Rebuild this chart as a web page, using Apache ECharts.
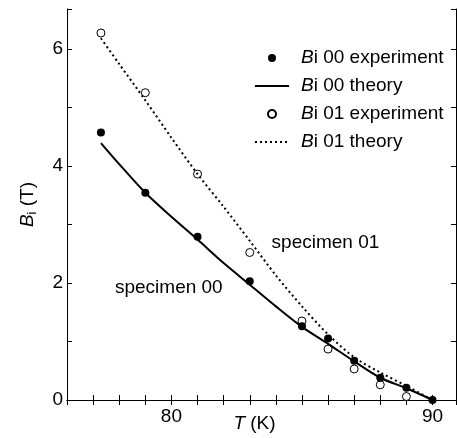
<!DOCTYPE html>
<html>
<head>
<meta charset="utf-8">
<script src="https://cdn.jsdelivr.net/npm/echarts@6/dist/echarts.min.js"></script>
<style>
  html, body { margin: 0; padding: 0; background: #fff; }
  #chart { width: 457px; height: 438px; }
</style>
</head>
<body>
<div id="chart"></div>
<script>
// 温度 (K) 与 Bi (T) 数据
const tExp = [77.3, 79, 81, 83, 85, 86, 87, 88, 89, 90]
const bi00Exp = [4.57, 3.54, 2.79, 2.03, 1.26, 1.05, 0.67, 0.38, 0.21, 0.0]
const bi01Exp = [6.27, 5.25, 3.86, 2.52, 1.35, 0.87, 0.53, 0.26, 0.06]

const tTheory = [77.3, 78, 79, 80, 81, 82, 83, 84, 85, 86, 87, 88, 89, 90]
const bi00Theory = [4.39, 4.03, 3.54, 3.13, 2.74, 2.34, 1.97, 1.60, 1.25, 0.96, 0.66, 0.38, 0.20, 0.0]
const bi01Theory = [6.18, 5.74, 5.12, 4.48, 3.86, 3.30, 2.72, 2.13, 1.60, 1.12, 0.73, 0.47, 0.24, 0.0]

const xLabels = [80, 90]
const yLabels = [0, 2, 4, 6]

// 标注文字
const notes = [
  { name: 'specimen 01', value: [85.9, 2.68] },
  { name: 'specimen 00', value: [79.9, 1.91] }
]

const legendNames = ['Bi 00 experiment', 'Bi 00 theory', 'Bi 01 experiment', 'Bi 01 theory']

const FONT = '"Liberation Sans", Arial, sans-serif'
const pairs = (xs, ys) => ys.map((y, i) => [xs[i], y])

const xCommon = {
  type: 'value',
  min: 76,
  max: 90.9,
  interval: 1,
  axisLine: { show: true, lineStyle: { color: '#000', width: 1 } },
  axisTick: { show: true, inside: true, length: 5, lineStyle: { color: '#000' } },
  splitLine: { show: false }
}
const yCommon = {
  type: 'value',
  min: 0,
  max: 6.68,
  interval: 1,
  axisLine: { show: true, lineStyle: { color: '#000', width: 1 } },
  axisTick: { show: true, inside: true, length: 5, lineStyle: { color: '#000' } },
  splitLine: { show: false }
}

// 理论曲线的图例只画线，不画点
const hideDot = { color: 'rgba(0,0,0,0)', borderWidth: 0, opacity: 0 }

const option = {
  animation: false,
  backgroundColor: '#fff',
  textStyle: { fontFamily: FONT },
  grid: { left: 67, right: 1, top: 9, bottom: 38, containLabel: false, outerBoundsMode: 'none' },
  legend: {
    data: [
      { name: legendNames[0] },
      { name: legendNames[1], itemStyle: hideDot },
      { name: legendNames[2] },
      { name: legendNames[3], itemStyle: hideDot }
    ],
    orient: 'vertical',
    left: 249,
    top: 43,
    itemWidth: 34,
    itemHeight: 8,
    itemGap: 8,
    formatter: n => '{i|B}' + n.slice(1),
    textStyle: {
      fontFamily: FONT,
      fontSize: 19,
      color: '#000',
      lineHeight: 20,
      padding: [0, 0, 0, 7],
      rich: { i: { fontFamily: FONT, fontSize: 19, fontStyle: 'italic', color: '#000' } }
    }
  },
  xAxis: [
    Object.assign({}, xCommon, {
      position: 'bottom',
      name: '{t|T} (K)',
      nameLocation: 'middle',
      nameGap: 14,
      nameMoveOverlap: false,
      nameTextStyle: {
        fontFamily: FONT, fontSize: 19, color: '#000', padding: [0, 14, 0, 0],
        rich: { t: { fontFamily: FONT, fontSize: 19, fontStyle: 'italic', color: '#000' } }
      },
      axisLabel: {
        fontFamily: FONT, fontSize: 19, color: '#000', margin: 7,
        formatter: v => (xLabels.includes(v) ? String(v) : '')
      }
    }),
    Object.assign({}, xCommon, { position: 'top', axisLabel: { show: false } })
  ],
  yAxis: [
    Object.assign({}, yCommon, {
      position: 'left',
      name: '{b|B}{s|i} (T)',
      nameLocation: 'middle',
      nameGap: 28,
      nameMoveOverlap: false,
      nameTextStyle: {
        fontFamily: FONT, fontSize: 19, color: '#000',
        rich: {
          b: { fontFamily: FONT, fontSize: 19, fontStyle: 'italic', color: '#000' },
          s: { fontFamily: FONT, fontSize: 13, color: '#000', padding: [9, 0, 0, 0] }
        }
      },
      axisLabel: {
        fontFamily: FONT, fontSize: 19, color: '#000', margin: 4,
        formatter: v => (yLabels.includes(v) ? String(v) : '')
      }
    }),
    Object.assign({}, yCommon, { position: 'right', axisLabel: { show: false } })
  ],
  series: [
    {
      name: 'Bi 01 experiment',
      type: 'scatter',
      symbol: 'circle',
      symbolSize: 8,
      itemStyle: { color: '#fff', borderColor: '#000', borderWidth: 1, opacity: 1 },
      data: pairs(tExp, bi01Exp)
    },
    {
      name: 'Bi 01 theory',
      type: 'line',
      symbol: 'none',
      smooth: 0.3,
      lineStyle: { color: '#000', width: 2, type: [2, 3] },
      itemStyle: { color: '#000' },
      data: pairs(tTheory, bi01Theory)
    },
    {
      name: 'Bi 00 theory',
      type: 'line',
      symbol: 'none',
      smooth: 0.3,
      lineStyle: { color: '#000', width: 2 },
      itemStyle: { color: '#000' },
      data: pairs(tTheory, bi00Theory)
    },
    {
      name: 'Bi 00 experiment',
      type: 'scatter',
      symbol: 'circle',
      symbolSize: 8,
      itemStyle: { color: '#000', opacity: 1 },
      data: pairs(tExp, bi00Exp)
    },
    {
      name: 'notes',
      type: 'scatter',
      symbolSize: 0,
      silent: true,
      itemStyle: { color: '#000', opacity: 1 },
      label: {
        show: true,
        position: 'inside',
        formatter: '{b}',
        fontFamily: FONT,
        fontSize: 19,
        color: '#000',
        textBorderWidth: 0
      },
      data: notes
    }
  ]
}

const chart = echarts.init(document.getElementById('chart'))
chart.setOption(option)
</script>
</body>
</html>
